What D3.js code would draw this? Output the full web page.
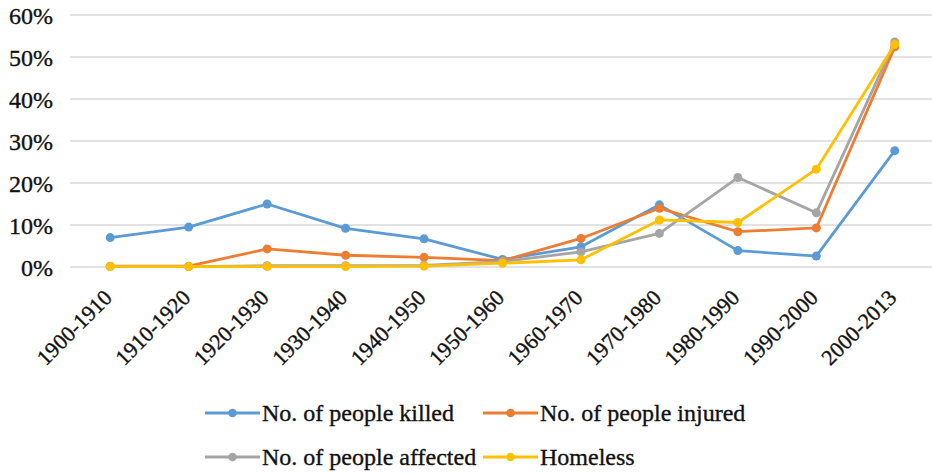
<!DOCTYPE html>
<html>
<head>
<meta charset="utf-8">
<script src="https://cdn.jsdelivr.net/npm/d3@7"></script>
<style>
  html, body { margin: 0; padding: 0; background: #fff; }
  svg { display: block; }
  text { font-family: "Liberation Serif", "Times New Roman", serif; fill: #111; stroke: #111; stroke-width: 0.35px; }
</style>
</head>
<body>
<svg id="chart" width="932" height="474"></svg>
<script>
const categories = ["1900-1910","1910-1920","1920-1930","1930-1940","1940-1950","1950-1960","1960-1970","1970-1980","1980-1990","1990-2000","2000-2013"];
const killed   = [7.0, 9.5, 15.0, 9.2, 6.7, 1.8, 4.8, 14.8, 3.9, 2.6, 27.7];
const injured  = [0.2, 0.2, 4.3, 2.8, 2.3, 1.5, 6.8, 14.0, 8.4, 9.3, 52.4];
const affected = [0.1, 0.1, 0.3, 0.3, 0.4, 1.3, 3.6, 8.0, 21.3, 12.9, 53.6];
const homeless = [0.1, 0.1, 0.1, 0.1, 0.2, 0.9, 1.7, 11.2, 10.6, 23.3, 53.0];
const seriesNames = ["No. of people killed", "No. of people injured", "No. of people affected", "Homeless"];
const seriesColors = ["#5B9BD5", "#ED7D31", "#A5A5A5", "#FFC000"];
const yTicks = [0, 10, 20, 30, 40, 50, 60];

const series = [killed, injured, affected, homeless];
const svg = d3.select("#chart");

const x = d3.scalePoint().domain(categories).range([71, 934]).padding(0.5);
const y = d3.scaleLinear().domain([0, 60]).range([267, 15]);

// gridlines
svg.append("g").selectAll("line").data(yTicks).join("line")
  .attr("x1", 70).attr("x2", 932)
  .attr("y1", d => y(d)).attr("y2", d => y(d))
  .attr("stroke", "#D9D9D9").attr("stroke-width", 1.5);

// y axis labels
const yAxis = d3.axisLeft(y).tickValues(yTicks).tickFormat(d => d + "%").tickSize(0).tickPadding(0);
const yg = svg.append("g").attr("transform", "translate(53,0)").call(yAxis);
yg.select(".domain").remove();
yg.selectAll("text").attr("font-size", 24).attr("font-family", "Liberation Serif").attr("dy", "0.34em");

// x axis labels
svg.append("g").selectAll("text").data(categories).join("text")
  .attr("transform", d => `translate(${x(d) + 3},299) rotate(-45)`)
  .attr("text-anchor", "end")
  .attr("font-size", 22)
  .text(d => d);

// lines
const line = d3.line().x((d, i) => x(categories[i])).y(d => y(d));
series.forEach((s, k) => {
  const g = svg.append("g");
  g.append("path").datum(s).attr("d", line)
    .attr("fill", "none").attr("stroke", seriesColors[k]).attr("stroke-width", 2.8)
    .attr("stroke-linejoin", "round");
  g.selectAll("circle").data(s).join("circle")
    .attr("cx", (d, i) => x(categories[i])).attr("cy", d => y(d))
    .attr("r", 4.5).attr("fill", seriesColors[k]);
});

// legend
const legendPos = [[205, 413], [483, 413], [205, 457], [483, 457]];
seriesNames.forEach((name, k) => {
  const [lx, ly] = legendPos[k];
  const g = svg.append("g").attr("transform", `translate(${lx},${ly})`);
  g.append("line").attr("x1", 0).attr("x2", 55).attr("y1", 0).attr("y2", 0)
    .attr("stroke", seriesColors[k]).attr("stroke-width", 2.8);
  g.append("circle").attr("cx", 27.5).attr("cy", 0).attr("r", 4.3).attr("fill", seriesColors[k]);
  g.append("text").attr("x", 57).attr("y", 0).attr("dy", "0.33em")
    .attr("font-size", 24).text(name);
});
</script>
</body>
</html>
